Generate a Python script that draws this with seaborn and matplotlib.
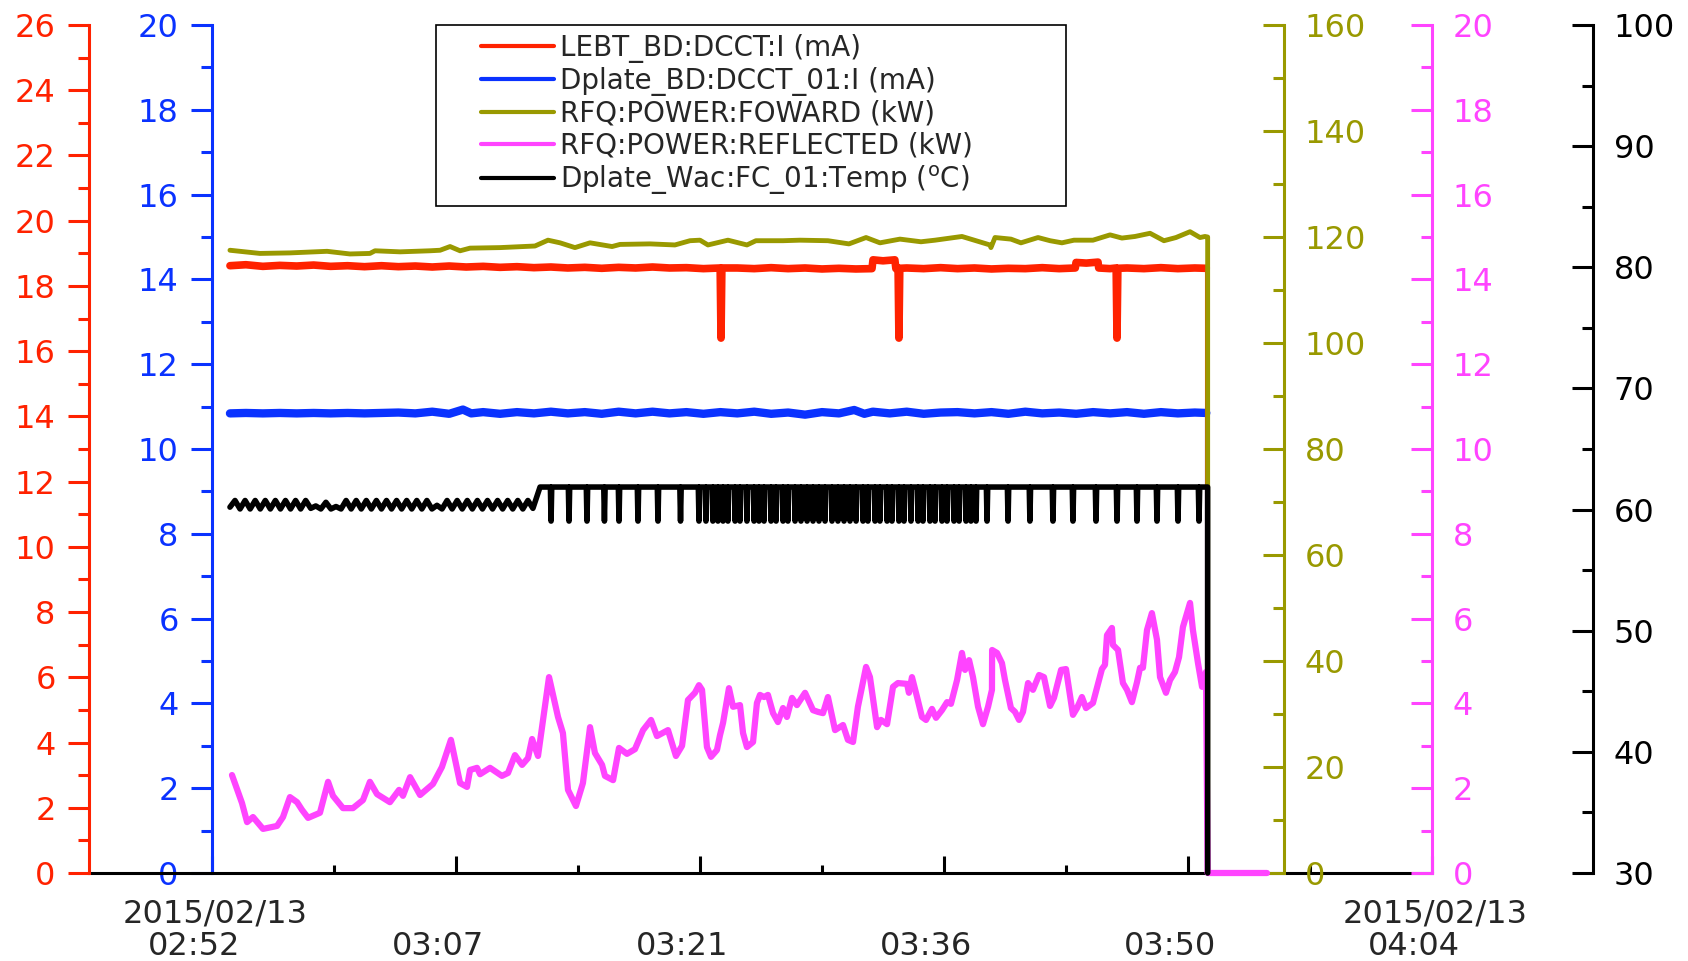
import numpy as np
import pandas as pd
import matplotlib
matplotlib.use("Agg")
import matplotlib.pyplot as plt
import matplotlib.dates as mdates
from matplotlib.lines import Line2D
from matplotlib.legend_handler import HandlerLine2D
from matplotlib.ticker import MultipleLocator
import seaborn as sns

sns.set_style("ticks")
plt.rcParams["font.family"] = "DejaVu Sans"
plt.rcParams["mathtext.default"] = "regular"

# ---- data (times are minutes after 2015/02/13 02:52) ----
t0 = pd.Timestamp("2015-02-13 02:52")
span_min = 72
tick_labels = ["02:52", "03:07", "03:21", "03:36", "03:50", "04:04"]
date_label = "2015/02/13"

# LEBT_BD:DCCT:I (mA)
lebt_min = [1.06, 2, 3, 4, 5, 6, 7, 8, 9, 10, 11, 12, 13, 14, 15, 16, 17, 18, 19, 20,
            21, 22, 23, 24, 25, 26, 27, 28, 29, 29.99, 30.04, 30.09, 31, 32, 33, 34, 35,
            36, 37, 38, 38.95, 39.01, 39.6, 40.3, 40.36, 40.49, 40.54, 40.59, 41, 42, 43,
            44, 45, 46, 47, 48, 49, 50, 50.95, 50.99, 51.6, 52.29, 52.33, 53, 53.36, 53.41,
            53.46, 54, 55, 56, 57, 58, 58.68, 58.68]
lebt_ma = [18.62, 18.65, 18.60, 18.63, 18.61, 18.64, 18.60, 18.62, 18.59, 18.62, 18.59,
           18.61, 18.58, 18.61, 18.58, 18.60, 18.57, 18.59, 18.56, 18.58, 18.55, 18.57,
           18.54, 18.57, 18.55, 18.58, 18.55, 18.56, 18.53, 18.55, 16.40, 18.55, 18.55,
           18.53, 18.56, 18.53, 18.55, 18.52, 18.54, 18.52, 18.53, 18.80, 18.77, 18.80,
           18.53, 18.55, 16.40, 18.54, 18.55, 18.53, 18.56, 18.53, 18.55, 18.52, 18.54,
           18.53, 18.56, 18.53, 18.55, 18.72, 18.70, 18.73, 18.55, 18.53, 18.55, 16.40,
           18.54, 18.55, 18.53, 18.56, 18.53, 18.55, 18.54, 0.0]

# Dplate_BD:DCCT_01:I (mA)
dplate_min = [1.06, 2, 3, 4, 5, 6, 7, 8, 9, 10, 11, 12, 13, 14, 14.81, 15.3, 16, 17, 18,
              19, 20, 21, 22, 23, 24, 25, 26, 27, 28, 29, 30, 31, 32, 33, 34, 35, 36, 37,
              37.9, 38.5, 39, 40, 41, 42, 43, 44, 45, 46, 47, 48, 49, 50, 51, 52, 53, 54,
              55, 56, 57, 58, 58.68, 58.68]
dplate_ma = [10.84, 10.85, 10.84, 10.85, 10.84, 10.85, 10.84, 10.85, 10.84, 10.85, 10.86,
             10.84, 10.88, 10.83, 10.93, 10.84, 10.87, 10.83, 10.87, 10.84, 10.88, 10.84,
             10.87, 10.83, 10.88, 10.84, 10.88, 10.84, 10.87, 10.83, 10.87, 10.84, 10.88,
             10.83, 10.86, 10.81, 10.87, 10.84, 10.92, 10.83, 10.88, 10.84, 10.88, 10.83,
             10.86, 10.87, 10.84, 10.87, 10.83, 10.88, 10.84, 10.86, 10.83, 10.87, 10.84,
             10.87, 10.83, 10.87, 10.84, 10.86, 10.85, 0.0]

# RFQ:POWER:FOWARD (kW)
fwd_min = [1.06, 2.83, 4.60, 6.79, 8.14, 9.32, 9.62, 11.10, 12.87, 13.46, 14.05, 14.64,
           15.23, 17.00, 19.06, 19.83, 20.54, 21.42, 22.31, 23.61, 24.08, 25.85, 27.32,
           28.21, 28.80, 29.27, 30.45, 31.57, 32.10, 33.70, 34.70, 36.35, 37.59, 38.60,
           39.42, 40.60, 41.84, 42.67, 44.26, 45.50, 45.91, 45.97, 46.21, 47.15, 47.74,
           48.75, 49.46, 50.16, 50.87, 51.99, 53.00, 53.70, 54.47, 55.36, 56.18, 56.89,
           57.72, 58.31, 58.60, 58.76, 58.76]
fwd_kw = [117.5, 116.9, 117.0, 117.3, 116.8, 116.9, 117.4, 117.2, 117.4, 117.5, 118.2,
          117.4, 117.9, 118.0, 118.3, 119.4, 118.9, 118.0, 118.9, 118.2, 118.6, 118.7,
          118.5, 119.3, 119.4, 118.5, 119.4, 118.5, 119.3, 119.3, 119.4, 119.3, 118.7,
          119.9, 118.9, 119.6, 119.1, 119.4, 120.1, 118.9, 118.5, 118.0, 119.9, 119.6,
          118.9, 119.9, 119.3, 118.9, 119.4, 119.4, 120.4, 119.8, 120.1, 120.7, 119.3,
          119.9, 121.0, 119.9, 120.1, 120.0, 0.0]

# RFQ:POWER:REFLECTED (kW)
refl_min = [1.18, 1.77, 2.07, 2.42, 3.01, 3.84, 4.19, 4.60, 5.02, 5.31, 5.67, 6.37, 6.85,
            7.14, 7.73, 8.32, 8.91, 9.32, 9.74, 10.50, 11.04, 11.27, 11.69, 12.28, 13.04,
            13.57, 14.10, 14.64, 15.05, 15.23, 15.64, 15.82, 16.41, 17.11, 17.47, 17.88,
            18.30, 18.65, 18.89, 19.24, 19.89, 20.42, 20.71, 21.01, 21.48, 21.89, 22.31,
            22.60, 23.02, 23.19, 23.67, 24.02, 24.49, 24.96, 25.44, 25.91, 26.26, 26.91,
            27.38, 27.74, 28.09, 28.50, 28.74, 28.92, 29.21, 29.45, 29.80, 29.98, 30.16,
            30.51, 30.75, 31.16, 31.34, 31.57, 31.93, 32.16, 32.34, 32.58, 32.81, 33.11,
            33.40, 33.70, 33.93, 34.23, 34.52, 35.00, 35.47, 35.76, 36.06, 36.35, 36.77,
            37.24, 37.53, 37.83, 38.12, 38.60, 38.83, 39.25, 39.48, 39.84, 40.19, 40.48,
            41.02, 41.13, 41.31, 41.61, 41.90, 42.14, 42.49, 42.73, 43.08, 43.38, 43.61,
            43.97, 44.26, 44.44, 44.68, 44.91, 45.21, 45.50, 45.80, 46.03, 46.04, 46.33,
            46.62, 46.80, 47.15, 47.39, 47.63, 47.86, 48.16, 48.45, 48.81, 49.10, 49.46,
            49.69, 50.11, 50.40, 50.81, 51.05, 51.34, 51.58, 51.99, 52.52, 52.70, 52.82,
            53.11, 53.17, 53.47, 53.76, 54.00, 54.29, 54.59, 54.77, 54.94, 55.18, 55.47,
            55.77, 55.95, 56.30, 56.54, 56.83, 57.07, 57.30, 57.72, 57.89, 58.19, 58.43,
            58.66, 58.76, 62.26]
refl_kw = [2.31, 1.65, 1.20, 1.32, 1.04, 1.11, 1.32, 1.79, 1.67, 1.49, 1.30, 1.42, 2.15,
           1.82, 1.53, 1.53, 1.72, 2.15, 1.86, 1.67, 1.96, 1.82, 2.26, 1.84, 2.10, 2.50,
           3.14, 2.12, 2.03, 2.43, 2.48, 2.33, 2.48, 2.29, 2.36, 2.78, 2.55, 2.71, 3.16,
           2.76, 4.62, 3.68, 3.30, 1.96, 1.58, 2.12, 3.44, 2.83, 2.55, 2.29, 2.19, 2.95,
           2.81, 2.92, 3.37, 3.61, 3.23, 3.37, 2.76, 3.00, 4.08, 4.25, 4.43, 4.32, 2.97,
           2.74, 2.90, 3.25, 3.54, 4.36, 3.92, 3.96, 3.30, 2.97, 3.09, 4.01, 4.20, 4.15,
           4.20, 3.77, 3.56, 3.89, 3.68, 4.13, 3.96, 4.25, 3.84, 3.80, 3.77, 4.15, 3.37,
           3.49, 3.14, 3.09, 3.92, 4.86, 4.62, 3.44, 3.61, 3.51, 4.39, 4.48, 4.46, 4.25,
           4.62, 4.15, 3.68, 3.61, 3.87, 3.66, 3.84, 4.03, 3.99, 4.55, 5.19, 4.79, 5.02,
           4.62, 3.92, 3.51, 3.92, 4.32, 5.26, 5.19, 4.95, 4.55, 3.89, 3.80, 3.61, 3.80,
           4.48, 4.32, 4.67, 4.62, 3.94, 4.13, 4.79, 4.81, 3.73, 3.89, 4.15, 3.89, 4.01,
           4.81, 4.91, 5.61, 5.78, 5.38, 5.26, 4.48, 4.32, 4.03, 4.50, 4.84, 4.84, 5.73,
           6.13, 5.50, 4.62, 4.25, 4.55, 4.74, 5.09, 5.80, 6.37, 5.73, 4.95, 4.39, 4.74,
           0.0, 0.0]

# Dplate_Wac:FC_01:Temp (degC): ripple before the step, then short dips from a flat level
temp_wave_c = [60.2, 60.75, 60.05, 60.75, 60.05, 60.75, 60.05, 60.75, 60.05, 60.75,
               60.05, 60.75, 60.05, 60.75, 60.05, 60.75, 60.1, 60.3, 60.05, 60.6,
               60.05, 60.25, 60.05, 60.75, 60.05, 60.75, 60.05, 60.75, 60.05, 60.75,
               60.05, 60.75, 60.05, 60.75, 60.05, 60.75, 60.05, 60.75, 60.05, 60.75,
               60.05, 60.35, 60.05, 60.75, 60.05, 60.75, 60.05, 60.75, 60.05, 60.75,
               60.05, 60.75, 60.05, 60.75, 60.05, 60.75, 60.05, 60.75, 60.05, 60.75,
               60.1]
temp_wave_start, temp_wave_end = 1.06, 18.94
temp_step_min = 19.36
temp_high_c = 61.86
temp_dip_c = 59.05
temp_dip_min = [20.01, 21.07, 22.13, 23.16, 24.02, 25.14, 26.32, 27.65,
                28.74, 29.15, 29.56, 29.86, 30.16, 30.45, 30.87, 31.16, 31.57, 31.99,
                32.28, 32.58, 32.99, 33.29, 33.70, 33.99, 34.41, 34.76, 35.12, 35.47,
                35.82, 36.18, 36.59, 36.94, 37.30, 37.65, 38.01, 38.42, 38.71, 39.13,
                39.42, 39.84, 40.13, 40.54, 40.84, 41.25, 41.67, 41.96, 42.37, 42.67,
                43.08, 43.38, 43.79, 44.09, 44.50, 44.79, 45.09,
                45.74, 46.98, 48.27, 49.63, 50.81, 52.17, 53.41, 54.59, 55.77, 57.01, 58.25]
temp_end_min = 58.76
temp_off_c = 30.0

RED, BLUE, OLIVE, MAGENTA, BLACK = "#ff2200", "#0a32ff", "#999900", "#ff44ff", "#000000"


def frame(minutes, values):
    return pd.DataFrame({"time": t0 + pd.to_timedelta(np.asarray(minutes, float), unit="min"),
                         "value": values})


temp_t = list(np.linspace(temp_wave_start, temp_wave_end, len(temp_wave_c)))
temp_v = list(temp_wave_c)
temp_t.append(temp_step_min)
temp_v.append(temp_high_c)
for d in temp_dip_min:
    temp_t += [d - 0.04, d, d + 0.04]
    temp_v += [temp_high_c, temp_dip_c, temp_high_c]
temp_t += [temp_end_min, temp_end_min]
temp_v += [temp_high_c, temp_off_c]

# ---- figure ----
W, H = 1688, 961
fig = plt.figure(figsize=(W / 100, H / 100), dpi=100)
ax = fig.add_axes([212 / W, 88 / H, 1220 / W, 848 / H])
ax_red = ax.twinx()
ax_olive = ax.twinx()
ax_mag = ax.twinx()
ax_black = ax.twinx()

line_kw = dict(estimator=None, sort=False, legend=False, clip_on=False,
               solid_joinstyle="round", solid_capstyle="round")

# the current traces are thick noisy bands; the switch-off drop is a thin line
sns.lineplot(data=frame(dplate_min[:-1], dplate_ma[:-1]), x="time", y="value", ax=ax,
             color=BLUE, linewidth=6.0, **line_kw)
sns.lineplot(data=frame(dplate_min[-2:], dplate_ma[-2:]), x="time", y="value", ax=ax,
             color=BLUE, linewidth=1.5, **line_kw)
sns.lineplot(data=frame(lebt_min[:-1], lebt_ma[:-1]), x="time", y="value", ax=ax_red,
             color=RED, linewidth=5.5, **line_kw)
sns.lineplot(data=frame(lebt_min[-2:], lebt_ma[-2:]), x="time", y="value", ax=ax_red,
             color=RED, linewidth=1.5, **line_kw)
sns.lineplot(data=frame(fwd_min, fwd_kw), x="time", y="value", ax=ax_olive,
             color=OLIVE, linewidth=3.5, **line_kw)
sns.lineplot(data=frame(refl_min, refl_kw), x="time", y="value", ax=ax_mag,
             color=MAGENTA, linewidth=4.5, **line_kw)
sns.lineplot(data=frame(temp_t, temp_v), x="time", y="value", ax=ax_black,
             color=BLACK, linewidth=4.0, **line_kw)

TICK_FS = 23


def style_y(a, side, color, lim, major, minor, pos):
    for s in a.spines.values():
        s.set_visible(False)
    sp = a.spines[side]
    sp.set_visible(True)
    sp.set_color(color)
    sp.set_linewidth(2.2)
    sp.set_position(("axes", pos))
    a.yaxis.set_ticks_position(side)
    a.yaxis.set_label_position(side)
    a.set_ylim(*lim)
    a.yaxis.set_major_locator(MultipleLocator(major))
    a.yaxis.set_minor_locator(MultipleLocator(minor))
    direction = "out" if side == "left" else "in"
    a.tick_params(axis="y", which="both", direction=direction, colors=color,
                  width=2.2, labelsize=TICK_FS, pad=9 if side == "left" else 15)
    a.tick_params(axis="y", which="major", length=15)
    a.tick_params(axis="y", which="minor", length=8)
    a.set_ylabel("")
    a.set_xlabel("")


style_y(ax, "left", BLUE, (0, 20), 2, 1, 0.0)
style_y(ax_red, "left", RED, (0, 26), 2, 1, (89 - 212) / 1220)
style_y(ax_olive, "right", OLIVE, (0, 160), 20, 10, (1284 - 212) / 1220)
style_y(ax_mag, "right", MAGENTA, (0, 20), 2, 1, 1.0)
style_y(ax_black, "right", BLACK, (30, 100), 10, 5, (1593 - 212) / 1220)

# x axis
ax.set_xlim(t0, t0 + pd.Timedelta(minutes=span_min))
step = span_min / (len(tick_labels) - 1)
major = [mdates.date2num(t0 + pd.Timedelta(minutes=k * step)) for k in range(len(tick_labels))]
minor = [mdates.date2num(t0 + pd.Timedelta(minutes=(k + 0.5) * step))
         for k in range(len(tick_labels) - 1)]
ax.set_xticks(major)
ax.set_xticks(minor, minor=True)
ax.set_xticklabels([])
ax.spines["bottom"].set_visible(True)
ax.spines["bottom"].set_color("black")
ax.spines["bottom"].set_linewidth(2.2)
lo = mdates.date2num(t0 - pd.Timedelta(minutes=span_min * 123 / 1220))
ax.spines["bottom"].set_bounds(lo, major[-1])
ax.tick_params(axis="x", which="both", direction="in", color="black", width=2.2)
ax.tick_params(axis="x", which="major", length=12)
ax.tick_params(axis="x", which="minor", length=6)

for k, (pos, lab) in enumerate(zip(major, tick_labels)):
    ax.annotate(lab, xy=(pos, 0), xycoords=("data", "axes fraction"), xytext=(-18, -82),
                textcoords="offset pixels", ha="center", va="baseline", fontsize=TICK_FS)
    if k in (0, len(tick_labels) - 1):
        ax.annotate(date_label, xy=(pos, 0), xycoords=("data", "axes fraction"),
                    xytext=(3, -50), textcoords="offset pixels", ha="center",
                    va="baseline", fontsize=TICK_FS)

# legend
labels = ["LEBT_BD:DCCT:I (mA)", "Dplate_BD:DCCT_01:I (mA)", "RFQ:POWER:FOWARD (kW)",
          "RFQ:POWER:REFLECTED (kW)", r"Dplate_Wac:FC_01:Temp ($^{o}$C)"]
handles = [Line2D([], [], color=c, linewidth=3.0) for c in (RED, BLUE, OLIVE, MAGENTA, BLACK)]
leg = ax_black.legend(handles, labels, loc="upper left",
                      bbox_to_anchor=((436 - 212) / 1220, 0.0, 630 / 1220, 1.0),
                      mode="expand", borderaxespad=0, fontsize=20, frameon=True,
                      fancybox=False, framealpha=1, edgecolor="black",
                      handlelength=3.9, handletextpad=0.25, labelspacing=0.14,
                      borderpad=0.33,
                      handler_map={Line2D: HandlerLine2D(xpad=1.3)})
leg.get_frame().set_linewidth(1.2)

fig.savefig("out.png", dpi=100)
